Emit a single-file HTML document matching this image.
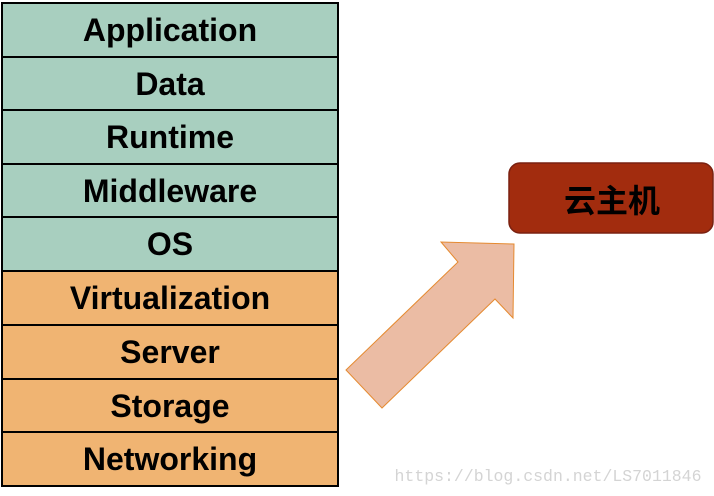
<!DOCTYPE html>
<html><head><meta charset="utf-8"><style>
body{margin:0;width:714px;height:496px;background:#fff;position:relative;overflow:hidden;font-family:"Liberation Sans","DejaVu Sans",sans-serif}
.r{position:absolute;left:1px;width:338px;border:2px solid #000;border-bottom:none;display:flex;align-items:center;justify-content:center;font-weight:bold;font-size:32px;color:#000;box-sizing:border-box}
.g{background:#a8cfbf}.o{background:#f0b472}
</style></head><body>
<div class="r g" style="top:2px;height:54px">Application</div>
<div class="r g" style="top:56px;height:54px">Data</div>
<div class="r g" style="top:109px;height:54px">Runtime</div>
<div class="r g" style="top:163px;height:54px">Middleware</div>
<div class="r g" style="top:216px;height:54px">OS</div>
<div class="r o" style="top:270px;height:54px">Virtualization</div>
<div class="r o" style="top:324px;height:54px">Server</div>
<div class="r o" style="top:378px;height:54px">Storage</div>
<div class="r o" style="top:431px;height:56px;border-bottom:2px solid #000">Networking</div>
<svg width="714" height="496" style="position:absolute;left:0;top:0">
<polygon points="346,370 458,262 441,242 514,244 513,318 495,299 382,408" fill="#ebbca4" stroke="#e58a30" stroke-width="1"/>
<rect x="509" y="163" width="204" height="70" rx="11" fill="#a22c0e" stroke="#7a2010" stroke-width="1.5"/>
<text x="612" y="212" text-anchor="middle" font-family="Liberation Sans,Noto Sans CJK SC,sans-serif" font-weight="bold" font-size="32" fill="#000">云主机</text>
<text x="548" y="481" text-anchor="middle" font-family="Liberation Mono,monospace" font-size="16.5" fill="#d4d4d4">https://blog.csdn.net/LS7011846</text>
</svg>
</body></html>
